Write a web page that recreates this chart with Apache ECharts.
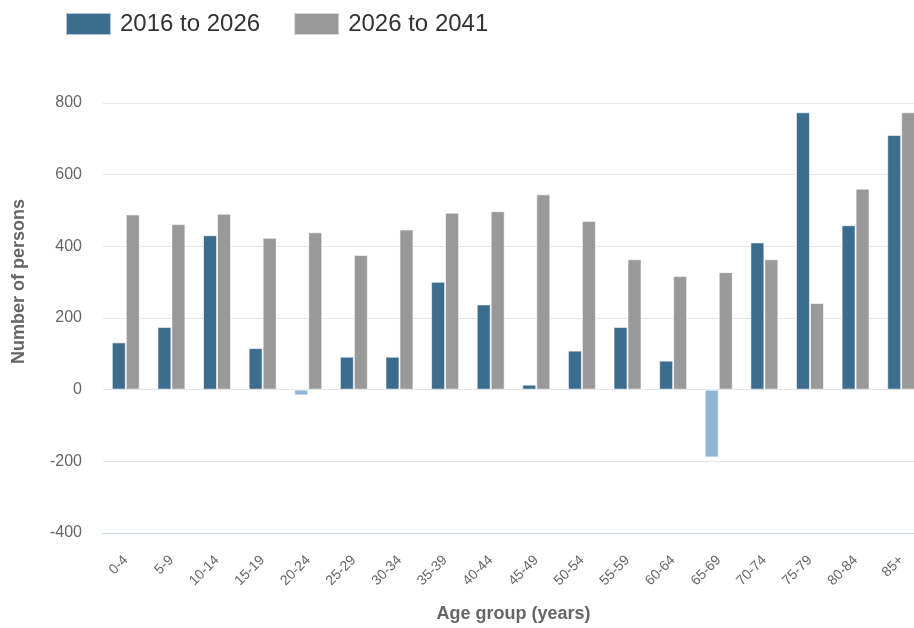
<!DOCTYPE html>
<html>
<head>
<meta charset="utf-8">
<script src="https://cdn.jsdelivr.net/npm/echarts@6/dist/echarts.min.js"></script>
<style>
html,body{margin:0;padding:0;background:#fff;overflow:hidden;}
#c{width:924px;height:628px;}
</style>
</head>
<body>
<div id="c"></div>
<script>
const categories = ['0-4','5-9','10-14','15-19','20-24','25-29','30-34','35-39','40-44','45-49','50-54','55-59','60-64','65-69','70-74','75-79','80-84','85+'];
const series2016to2026 = [132, 175, 431, 116, -16, 92, 92, 301, 238, 14, 109, 175, 81, -189, 411, 774, 459, 711];
const series2026to2041 = [489, 462, 491, 424, 439, 376, 447, 494, 498, 545, 471, 364, 317, 328, 364, 242, 561, 774];
const yTicks = { min: -400, max: 800, interval: 200 };

const BLUE = '#3d6d8e', NEG_BLUE = '#8fb7d5', GREY = '#999999';
const FONT = '"Liberation Sans", Arial, sans-serif';
const chart = echarts.init(document.getElementById('c'), null, { renderer: 'canvas' });
chart.setOption({
  animation: false,
  textStyle: { fontFamily: FONT },
  legend: {
    left: 65, top: 12, padding: 0,
    itemWidth: 45, itemHeight: 22, itemGap: 33,
    icon: 'rect',
    textStyle: { fontSize: 24, color: '#333', fontFamily: FONT, padding: [3, 0, 0, 4] },
    data: ['2016 to 2026', '2026 to 2041']
  },
  grid: { left: 103, top: 103, width: 821, height: 431, containLabel: false },
  xAxis: {
    type: 'category',
    data: categories,
    name: 'Age group (years)',
    nameLocation: 'middle',
    nameGap: 72,
    nameTextStyle: { fontSize: 18, fontWeight: 'bold', color: '#666', fontFamily: FONT },
    axisLine: { onZero: false, lineStyle: { color: '#ccd6eb', width: 1 } },
    axisTick: { alignWithLabel: true, length: 10, lineStyle: { color: '#ccd6eb' } },
    axisLabel: { rotate: 45, fontSize: 14, color: '#666', margin: 25, fontFamily: FONT },
    splitLine: { show: false }
  },
  yAxis: {
    type: 'value',
    min: yTicks.min, max: yTicks.max, interval: yTicks.interval,
    name: 'Number of persons',
    nameLocation: 'middle',
    nameRotate: 90,
    nameGap: 75,
    nameTextStyle: { fontSize: 18, fontWeight: 'bold', color: '#666', fontFamily: FONT, padding: [0, 0, 0, 73] },
    axisLine: { show: false },
    axisTick: { show: false },
    axisLabel: { fontSize: 16, color: '#666', margin: 21, fontFamily: FONT },
    splitLine: { lineStyle: { color: '#e6e6e6', width: 1 } }
  },
  series: [
    {
      name: '2016 to 2026',
      type: 'bar',
      data: series2016to2026.map(v => v < 0 ? { value: v, itemStyle: { color: NEG_BLUE } } : v),
      barWidth: 14,
      barGap: '0%',
      itemStyle: { color: BLUE, borderColor: 'rgba(255,255,255,0.6)', borderWidth: 1 }
    },
    {
      name: '2026 to 2041',
      type: 'bar',
      data: series2026to2041,
      barWidth: 14,
      barGap: '0%',
      itemStyle: { color: GREY, borderColor: 'rgba(255,255,255,0.6)', borderWidth: 1 }
    }
  ]
});
</script>
</body>
</html>
